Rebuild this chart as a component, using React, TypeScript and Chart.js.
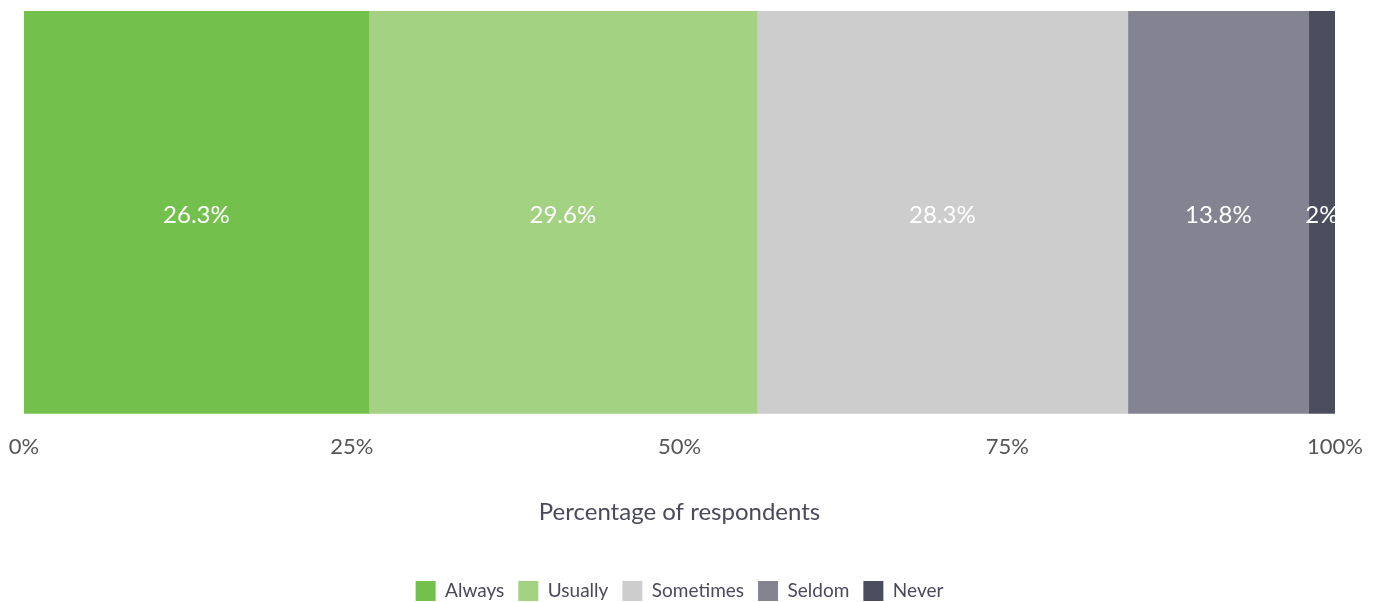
import React, { useEffect, useRef } from "react";
import { Chart, registerables } from "chart.js";

Chart.register(...registerables);

const categories = ["Respondents"];
const seriesNames = ["Always", "Usually", "Sometimes", "Seldom", "Never"];
const seriesValues = [26.3, 29.6, 28.3, 13.8, 2];
const seriesColors = ["#74c04c", "#a3d283", "#cdcdcd", "#838392", "#4c4c5f"];
const axisTitle = "Percentage of respondents";

const FONT = "Lato, 'Noto Sans', sans-serif";

const labelPlugin = {
  id: "segLabels",
  afterDatasetsDraw(chart: any) {
    const ctx = chart.ctx;
    ctx.save();
    ctx.fillStyle = "#ffffff";
    ctx.font = `24px ${FONT}`;
    ctx.textAlign = "center";
    ctx.textBaseline = "middle";
    chart.data.datasets.forEach((ds: any, i: number) => {
      const meta = chart.getDatasetMeta(i);
      meta.data.forEach((el: any, j: number) => {
        const v = ds.data[j];
        const cx = (el.x + el.base) / 2;
        ctx.fillText(`${v}%`, cx, el.y + 3);
      });
    });
    ctx.restore();
  },
};

export default function App() {
  const ref = useRef<HTMLCanvasElement>(null);
  useEffect(() => {
    document.documentElement.style.overflow = "hidden";
    const chart = new Chart(ref.current!, {
      type: "bar",
      data: {
        labels: categories,
        datasets: seriesNames.map((name, i) => ({
          label: name,
          data: [seriesValues[i]],
          backgroundColor: seriesColors[i],
          borderWidth: 0,
          barPercentage: 1,
          categoryPercentage: 1,
        })),
      },
      options: {
        indexAxis: "y",
        animation: false,
        responsive: true,
        maintainAspectRatio: false,
        layout: { padding: { top: 3, left: 16, right: 36, bottom: 0 } },
        scales: {
          x: {
            stacked: true,
            min: 0,
            max: 100,
            grid: { display: false },
            border: { display: false },
            afterFit: (scale: any) => {
              scale.paddingLeft = 0;
              scale.paddingRight = 0;
            },
            ticks: {
              stepSize: 25,
              padding: 12,
              color: "#555555",
              font: { size: 22, family: FONT },
              maxRotation: 0,
              callback: (v: any) => `${v}%`,
            },
            title: {
              display: true,
              text: axisTitle,
              color: "#4a4a5c",
              font: { size: 24, family: FONT },
              padding: { top: 26, bottom: 40 },
            },
          },
          y: {
            stacked: true,
            display: false,
          },
        },
        plugins: {
          legend: {
            position: "bottom",
            labels: {
              boxWidth: 20,
              boxHeight: 20,
              padding: 14,
              color: "#4a4a5c",
              font: { size: 19, family: FONT },
            },
          },
          tooltip: { enabled: false },
        },
      },
      plugins: [labelPlugin],
    });
    return () => chart.destroy();
  }, []);
  return (
    <div style={{ width: 1363, height: 603, position: "relative" }}>
      <canvas ref={ref} />
    </div>
  );
}
